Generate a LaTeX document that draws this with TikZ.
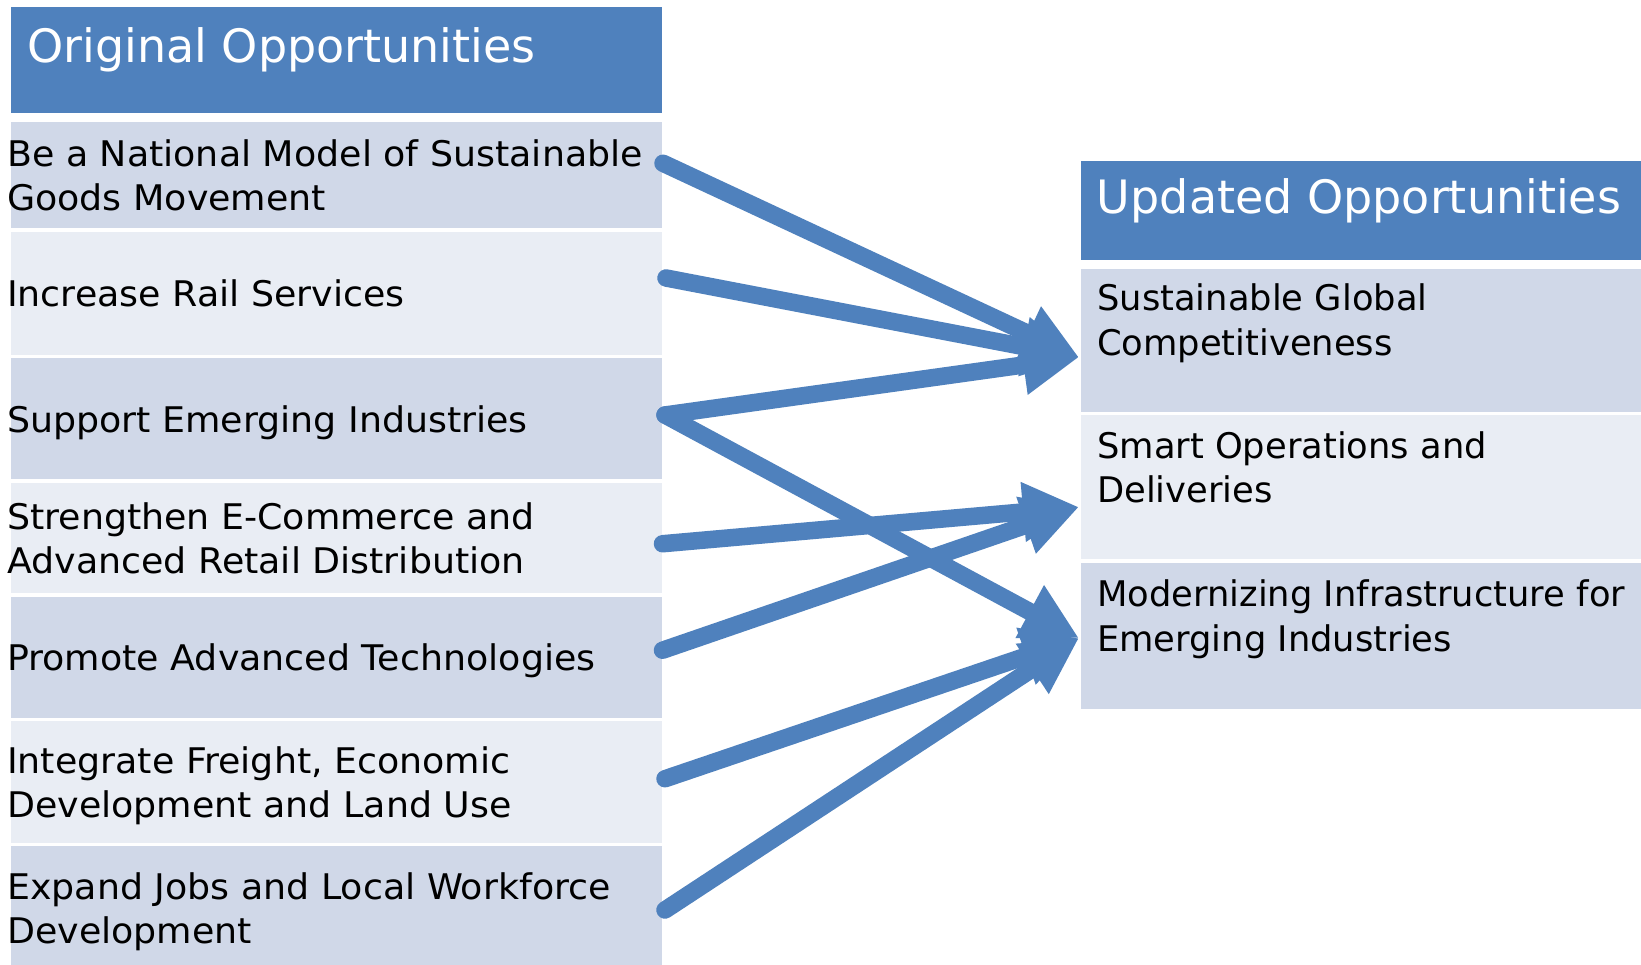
\documentclass[tikz,border=0pt]{standalone}
\usepackage{fontspec}
\setmainfont{DejaVu Sans}
\newfontfamily\titlefont{DejaVu Sans}
\newfontfamily\bodyfont{DejaVu Sans}
\newfontfamily\leftbodyfont[FakeStretch=1.03]{DejaVu Sans}
\usetikzlibrary{arrows.meta}
\definecolor{hdrblue}{HTML}{4F81BD}
\definecolor{rowdark}{HTML}{D0D8E8}
\definecolor{rowlight}{HTML}{E9EDF4}
\begin{document}
\begin{tikzpicture}[x=1pt,y=-1pt,
  cell/.style={draw=none, inner sep=0pt, outer sep=0pt, anchor=north west},
  lcell/.style={cell, minimum width=651pt},
  rcell/.style={cell, minimum width=560pt},
  titletext/.style={inner sep=0pt, anchor=base west, text=white, font=\titlefont\fontsize{46}{55}\selectfont},
  btext/.style={inner sep=0pt, anchor=base west, text=black, font=\bodyfont\fontsize{35.3}{44.4}\selectfont},
  ltext/.style={btext, font=\leftbodyfont\fontsize{35.3}{44.4}\selectfont},
  conn/.style={draw=hdrblue, line width=17.5pt, line cap=round, -{Triangle[length=56pt,width=56pt]}}
]
\fill[white] (0,0) rectangle (1641,965);
\useasboundingbox (0,0) rectangle (1641,965);

% left table
\node[lcell, fill=hdrblue, minimum height=105.7pt] (LH) at (10.5,7.3) {};
\node[lcell, fill=rowdark, minimum height=105.5pt] (L1) at (10.5,122.5) {};
\node[lcell, fill=rowlight, minimum height=123pt] (L2) at (10.5,232) {};
\node[lcell, fill=rowdark, minimum height=121pt] (L3) at (10.5,358) {};
\node[lcell, fill=rowlight, minimum height=110.5pt] (L4) at (10.5,482.5) {};
\node[lcell, fill=rowdark, minimum height=121.5pt] (L5) at (10.5,596.5) {};
\node[lcell, fill=rowlight, minimum height=121.5pt] (L6) at (10.5,721) {};
\node[lcell, fill=rowdark, minimum height=119pt] (L7) at (10.5,846) {};

% right table
\node[rcell, fill=hdrblue, minimum height=99.5pt] (RH) at (1081,161) {};
\node[rcell, fill=rowdark, minimum height=142.5pt] (R1) at (1081,269) {};
\node[rcell, fill=rowlight, minimum height=144pt] (R2) at (1081,415) {};
\node[rcell, fill=rowdark, minimum height=145.7pt] (R3) at (1081,563.3) {};

% texts
\node[titletext] (LHt) at (27,62.7) {Original Opportunities};
\node[titletext] (RHt) at (1096.7,214) {Updated Opportunities};

\node[ltext] (L1t) at (7,166.5) {\begin{tabular}[t]{@{}l@{}}Be a National Model of Sustainable\\Goods Movement\end{tabular}};
\node[ltext] (L2t) at (7,307) {Increase Rail Services};
\node[ltext] (L3t) at (7,432) {Support Emerging Industries};
\node[ltext] (L4t) at (7,529) {\begin{tabular}[t]{@{}l@{}}Strengthen E-Commerce and\\Advanced Retail Distribution\end{tabular}};
\node[ltext] (L5t) at (7,670.5) {Promote Advanced Technologies};
\node[ltext] (L6t) at (7,773.5) {\begin{tabular}[t]{@{}l@{}}Integrate Freight, Economic\\Development and Land Use\end{tabular}};
\node[ltext] (L7t) at (7,899) {\begin{tabular}[t]{@{}l@{}}Expand Jobs and Local Workforce\\Development\end{tabular}};

\node[btext] (R1t) at (1097,310.7) {\begin{tabular}[t]{@{}l@{}}Sustainable Global\\Competitiveness\end{tabular}};
\node[btext] (R2t) at (1097,458.3) {\begin{tabular}[t]{@{}l@{}}Smart Operations and\\Deliveries\end{tabular}};
\node[btext] (R3t) at (1097,606.7) {\begin{tabular}[t]{@{}l@{}}Modernizing Infrastructure for\\Emerging Industries\end{tabular}};

% connectors
\draw[conn] ([shift={(1.5,-12)}]L1.east) -- ([shift={(-2,17)}]R1.west);
\draw[conn] ([shift={(4.5,-15.5)}]L2.east) -- ([shift={(-2,17)}]R1.west);
\draw[conn] ([shift={(3.5,-3.5)}]L3.east) -- ([shift={(-2,17)}]R1.west);
\draw[conn] ([shift={(1,6)}]L4.east) -- ([shift={(-2,20)}]R2.west);
\draw[conn] ([shift={(1,-7)}]L5.east) -- ([shift={(-2,20)}]R2.west);
\draw[conn] ([shift={(3.5,-3.5)}]L3.east) -- ([shift={(-2,2)}]R3.west);
\draw[conn] ([shift={(3.5,-3)}]L6.east) -- ([shift={(-2,2)}]R3.west);
\draw[conn] ([shift={(3.5,4.5)}]L7.east) -- ([shift={(-2,2)}]R3.west);
\end{tikzpicture}
\end{document}
